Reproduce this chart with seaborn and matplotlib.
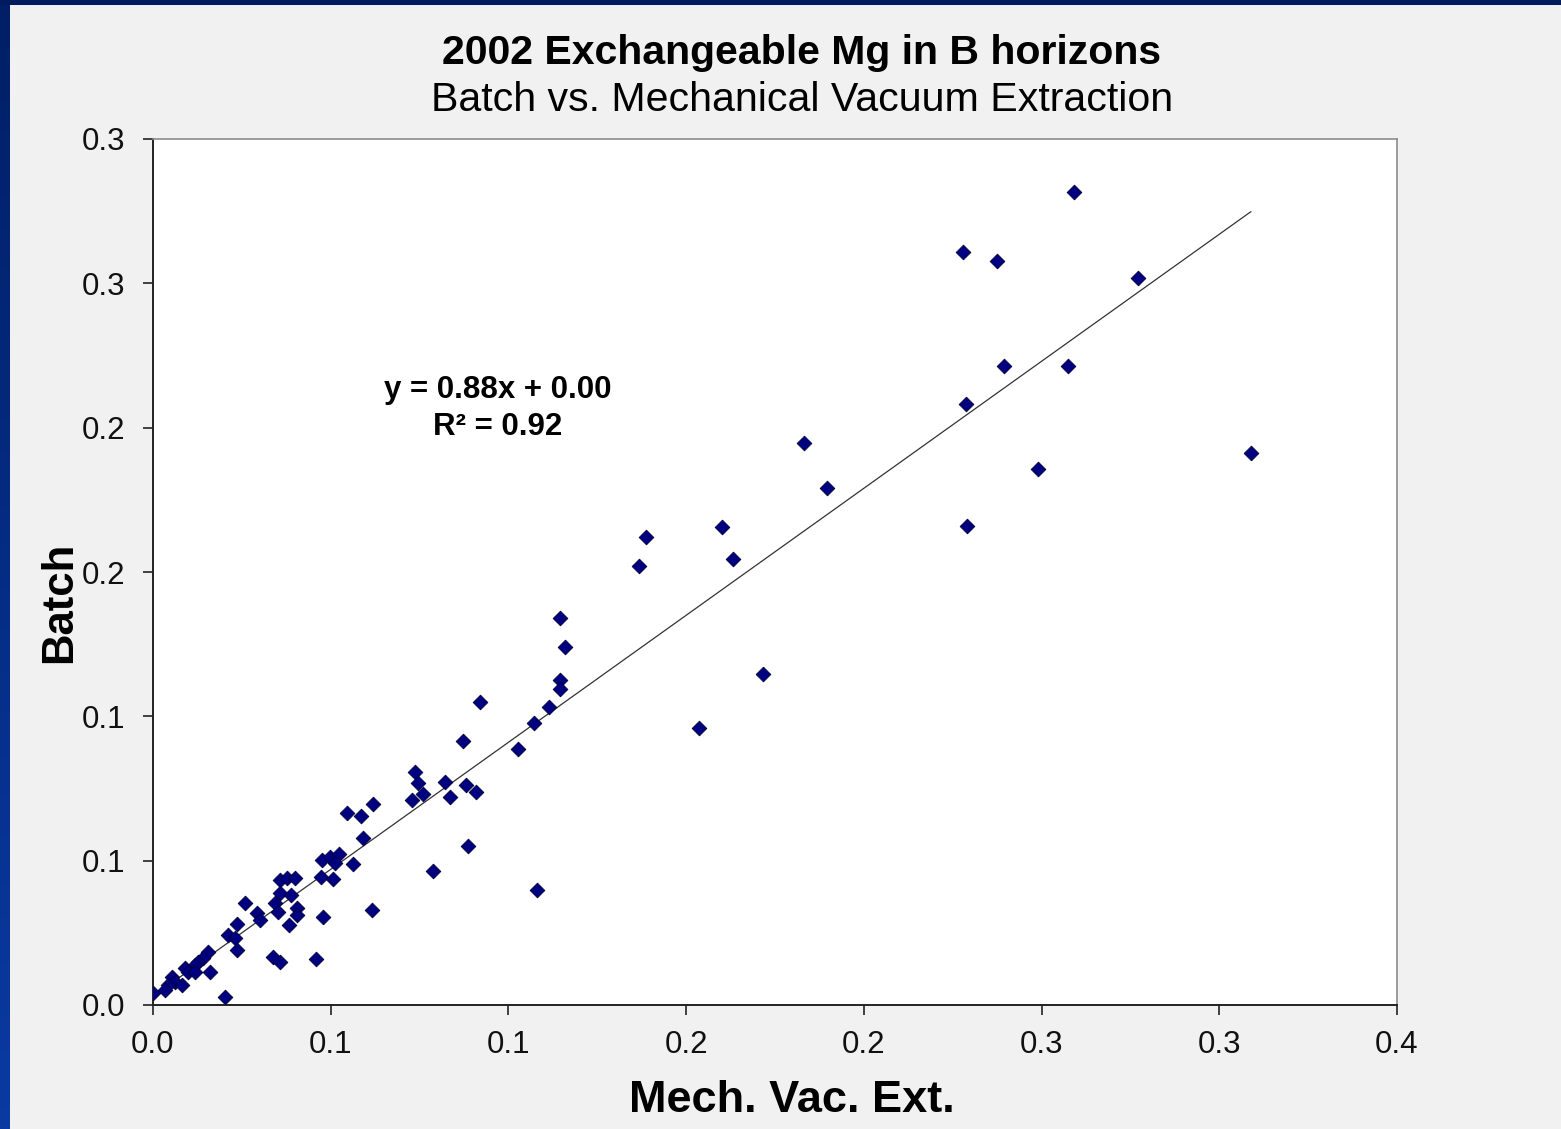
import numpy as np
import pandas as pd
import matplotlib
matplotlib.use("Agg")
import matplotlib.pyplot as plt
from matplotlib.patches import Rectangle
from matplotlib.colors import LinearSegmentedColormap
import seaborn as sns

# Exchangeable Mg (B horizons), 2002: mechanical vacuum extraction vs. batch
mech_vac_ext = [
    0.2591, 0.2279, 0.2375, 0.2771, 0.2394, 0.2574, 0.2287, 0.1832, 0.3089, 0.2490,
    0.1896, 0.2290, 0.1601, 0.1387, 0.1632, 0.1367, 0.1145, 0.1159, 0.1716, 0.1145,
    0.1145, 0.1114, 0.0920, 0.1072, 0.1536, 0.0872, 0.1027, 0.0737, 0.0746, 0.0822,
    0.0881, 0.0909, 0.0760, 0.0729, 0.0836, 0.0619, 0.0546, 0.0585, 0.0591, 0.0886,
    0.0788, 0.1080, 0.0616, 0.0475, 0.0498, 0.0523, 0.0512, 0.0563, 0.0473, 0.0506,
    0.0478, 0.0357, 0.0377, 0.0400, 0.0357, 0.0388, 0.0259, 0.0343, 0.0352, 0.0405,
    0.0405, 0.0293, 0.0301, 0.0383, 0.0459, 0.0338, 0.0357, 0.0236, 0.0211, 0.0231,
    0.0236, 0.0155, 0.0141, 0.0127, 0.0118, 0.0090, 0.0098, 0.0118, 0.0160, 0.0053,
    0.0062, 0.0042, 0.0082, 0.0034, 0.0000, 0.0203,
]
batch = [
    0.2816, 0.2609, 0.2577, 0.2518, 0.2214, 0.2214, 0.2082, 0.1947, 0.1912, 0.1857,
    0.1791, 0.1659, 0.1656, 0.1621, 0.1545, 0.1521, 0.1341, 0.1240, 0.1147, 0.1126,
    0.1095, 0.1032, 0.1050, 0.0977, 0.0960, 0.0915, 0.0887, 0.0807, 0.0769, 0.0773,
    0.0762, 0.0738, 0.0731, 0.0710, 0.0721, 0.0696, 0.0665, 0.0655, 0.0579, 0.0551,
    0.0464, 0.0398, 0.0329, 0.0502, 0.0513, 0.0523, 0.0492, 0.0488, 0.0443, 0.0436,
    0.0305, 0.0433, 0.0440, 0.0440, 0.0388, 0.0381, 0.0353, 0.0353, 0.0322, 0.0336,
    0.0312, 0.0319, 0.0294, 0.0277, 0.0159, 0.0166, 0.0149, 0.0281, 0.0242, 0.0232,
    0.0191, 0.0184, 0.0163, 0.0149, 0.0139, 0.0128, 0.0114, 0.0114, 0.0114, 0.0097,
    0.0080, 0.0069, 0.0069, 0.0052, 0.0042, 0.0028,
]

# Linear trend line
trend_slope = 0.88
trend_intercept = 0.003

x_ticks = [0.0, 0.05, 0.10, 0.15, 0.20, 0.25, 0.30, 0.35]
x_tick_labels = ["0.0", "0.1", "0.1", "0.2", "0.2", "0.3", "0.3", "0.4"]
y_ticks = [0.0, 0.05, 0.10, 0.15, 0.20, 0.25, 0.30]
y_tick_labels = ["0.0", "0.1", "0.1", "0.2", "0.2", "0.3", "0.3"]

df = pd.DataFrame({"Mech. Vac. Ext.": mech_vac_ext, "Batch": batch})

sns.set_theme(style="ticks")
plt.rcParams["font.family"] = ["Liberation Sans", "DejaVu Sans"]

W, H = 1561, 1129
fig = plt.figure(figsize=(W / 100, H / 100), dpi=100, facecolor="#f1f1f1")

# slide frame: dark band on top, blue gradient stripe on the left
fig.patches.append(Rectangle((0, 1 - 5 / H), 1, 5 / H, transform=fig.transFigure,
                             facecolor="#001c5e", edgecolor="none", zorder=0))
stripe = fig.add_axes([0, 0, 10 / W, 1 - 5 / H])
grad = np.linspace(0, 1, 256).reshape(-1, 1)
cmap = LinearSegmentedColormap.from_list("frame", ["#0a3aa2", "#001f66"])
stripe.imshow(grad, aspect="auto", cmap=cmap, origin="lower")
stripe.set_axis_off()

ax = fig.add_axes([153 / W, 1 - 1005 / H, (1397 - 153) / W, (1005 - 139) / H])
ax.set_facecolor("white")

sns.scatterplot(data=df, x="Mech. Vac. Ext.", y="Batch", ax=ax, marker="D", s=56,
                color="#000080", edgecolor="#00003a", linewidth=0.6, zorder=3)

line_x = np.array([0.0, max(mech_vac_ext)])
sns.lineplot(x=line_x, y=trend_slope * line_x + trend_intercept, ax=ax,
             color="#333333", linewidth=0.9, zorder=2)

ax.set_xlim(0, 0.35)
ax.set_ylim(0, 0.30)
ax.set_xticks(x_ticks)
ax.set_xticklabels(x_tick_labels)
ax.set_yticks(y_ticks)
ax.set_yticklabels(y_tick_labels)
ax.tick_params(axis="both", direction="out", length=7, width=1.2, color="#222222",
               labelsize=22.5, labelcolor="#111111")
ax.tick_params(axis="x", pad=11)
ax.tick_params(axis="y", pad=13)

for side in ("left", "bottom"):
    ax.spines[side].set_color("#222222")
    ax.spines[side].set_linewidth(1.4)
for side in ("top", "right"):
    ax.spines[side].set_visible(True)
    ax.spines[side].set_color("#8c8c8c")
    ax.spines[side].set_linewidth(1.2)

ax.set_xlabel("")
ax.set_ylabel("")

fig.text(792 / W, 1 - 1100 / H, "Mech. Vac. Ext.", ha="center", va="center",
         fontsize=32.5, fontweight="bold", color="#000000")
fig.text(60 / W, 1 - 602 / H, "Batch", ha="center", va="center", rotation=90,
         fontsize=31.5, fontweight="bold", color="#000000")

fig.text(801 / W, 1 - 53 / H, "2002 Exchangeable Mg in B horizons", ha="center",
         va="center", fontsize=29.5, fontweight="bold", color="#000000")
fig.text(802 / W, 1 - 100 / H, "Batch vs. Mechanical Vacuum Extraction", ha="center",
         va="center", fontsize=29.6, color="#000000")

fig.text(498 / W, 1 - 390 / H, "y = 0.88x + 0.00", ha="center", va="center",
         fontsize=22.5, fontweight="bold", color="#000000")
fig.text(498 / W, 1 - 427 / H, "R\u00b2 = 0.92", ha="center", va="center",
         fontsize=22.5, fontweight="bold", color="#000000")

fig.savefig("out.png", dpi=100, facecolor=fig.get_facecolor())
